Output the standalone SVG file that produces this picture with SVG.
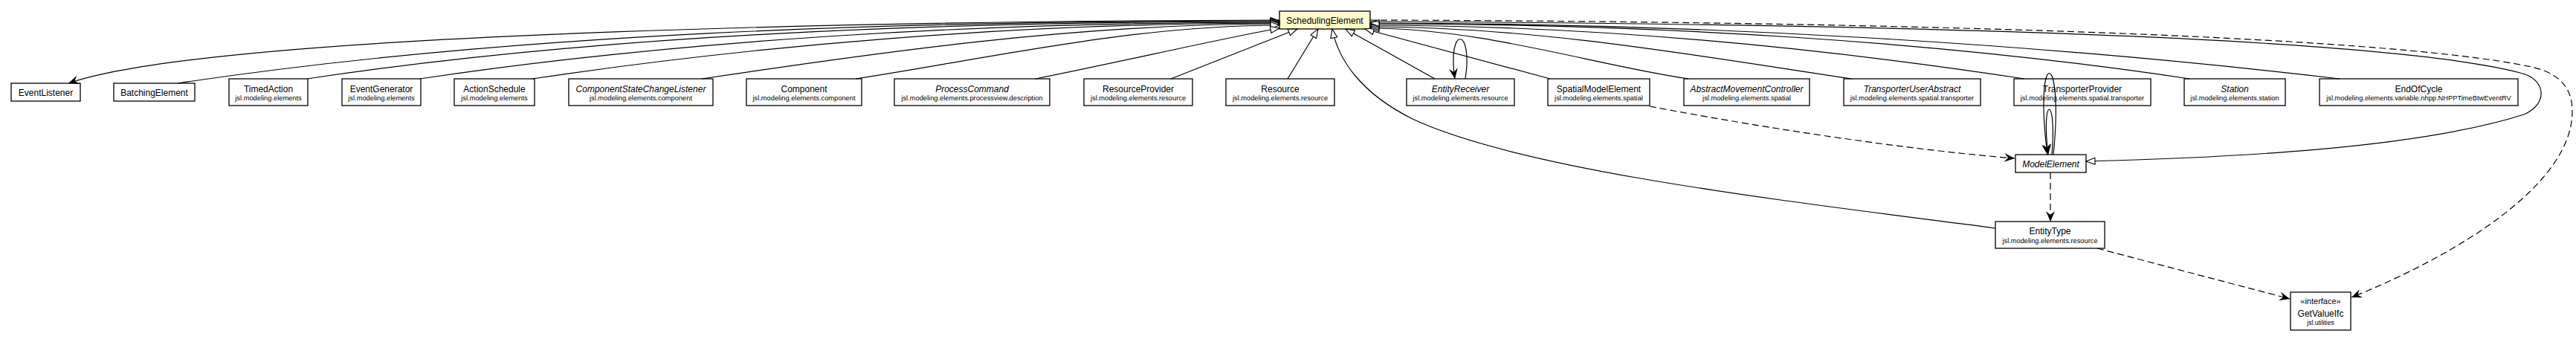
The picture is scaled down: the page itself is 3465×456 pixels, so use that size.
<svg xmlns="http://www.w3.org/2000/svg" width="3465" height="456" viewBox="0 0 3465 456">
<style>
.box{fill:#fff;stroke:#000;stroke-width:1.3}
.ctx{fill:#fffacd;stroke:#000;stroke-width:1.3}
.n{font-family:"Liberation Sans",Arial,sans-serif;font-size:12px;text-anchor:middle;fill:#000}
.i{font-style:italic}
.p{font-family:"Liberation Sans",Arial,sans-serif;font-size:9.3px;text-anchor:middle;fill:#000}
.e{fill:none;stroke:#000;stroke-width:1.2}
.d{fill:none;stroke:#000;stroke-width:1.2;stroke-dasharray:9,5}
.g{marker-end:url(#tri)}
.v{marker-end:url(#vee)}
</style>
<defs>
<marker id="tri" markerUnits="userSpaceOnUse" markerWidth="14" markerHeight="12" refX="13" refY="6" orient="auto" overflow="visible"><path d="M1,1.5 L13,6 L1,10.5 Z" fill="#fff" stroke="#000" stroke-width="1.1"/></marker>
<marker id="vee" markerUnits="userSpaceOnUse" markerWidth="15" markerHeight="14" refX="14" refY="7" orient="auto" overflow="visible"><path d="M0,1 L14,7 L0,13 L5,7 Z" fill="#000"/></marker>
</defs>
<g id="nodes">
<g id="SchedulingElement"><rect class="ctx" x="1721" y="15" width="122" height="24"/><text class="n" x="1782" y="32">SchedulingElement</text></g>
<g id="EventListener"><rect class="box" x="15" y="112" width="93" height="24"/><text class="n" x="61.5" y="128.5">EventListener</text></g>
<g id="BatchingElement"><rect class="box" x="153" y="112" width="109" height="24"/><text class="n" x="207.5" y="128.5">BatchingElement</text></g>
<g id="TimedAction"><rect class="box" x="308" y="106" width="106" height="36"/><text class="n" x="361" y="123.5">TimedAction</text><text class="p" x="361" y="135">jsl.modeling.elements</text></g>
<g id="EventGenerator"><rect class="box" x="460" y="106" width="106" height="36"/><text class="n" x="513" y="123.5">EventGenerator</text><text class="p" x="513" y="135">jsl.modeling.elements</text></g>
<g id="ActionSchedule"><rect class="box" x="611" y="106" width="108" height="36"/><text class="n" x="665" y="123.5">ActionSchedule</text><text class="p" x="665" y="135">jsl.modeling.elements</text></g>
<g id="ComponentStateChangeListener"><rect class="box" x="765" y="106" width="194" height="36"/><text class="n i" x="862" y="123.5">ComponentStateChangeListener</text><text class="p" x="862" y="135">jsl.modeling.elements.component</text></g>
<g id="Component"><rect class="box" x="1004" y="106" width="155" height="36"/><text class="n" x="1081.5" y="123.5">Component</text><text class="p" x="1081.5" y="135">jsl.modeling.elements.component</text></g>
<g id="ProcessCommand"><rect class="box" x="1203" y="106" width="209" height="36"/><text class="n i" x="1307.5" y="123.5">ProcessCommand</text><text class="p" x="1307.5" y="135">jsl.modeling.elements.processview.description</text></g>
<g id="ResourceProvider"><rect class="box" x="1458" y="106" width="146" height="36"/><text class="n" x="1531" y="123.5">ResourceProvider</text><text class="p" x="1531" y="135">jsl.modeling.elements.resource</text></g>
<g id="Resource"><rect class="box" x="1649" y="106" width="146" height="36"/><text class="n" x="1722" y="123.5">Resource</text><text class="p" x="1722" y="135">jsl.modeling.elements.resource</text></g>
<g id="EntityReceiver"><rect class="box" x="1892" y="106" width="145" height="36"/><text class="n i" x="1964.5" y="123.5">EntityReceiver</text><text class="p" x="1964.5" y="135">jsl.modeling.elements.resource</text></g>
<g id="SpatialModelElement"><rect class="box" x="2082" y="106" width="137" height="36"/><text class="n" x="2150.5" y="123.5">SpatialModelElement</text><text class="p" x="2150.5" y="135">jsl.modeling.elements.spatial</text></g>
<g id="AbstractMovementController"><rect class="box" x="2265" y="106" width="169" height="36"/><text class="n i" x="2349.5" y="123.5">AbstractMovementController</text><text class="p" x="2349.5" y="135">jsl.modeling.elements.spatial</text></g>
<g id="TransporterUserAbstract"><rect class="box" x="2480" y="106" width="184" height="36"/><text class="n i" x="2572" y="123.5">TransporterUserAbstract</text><text class="p" x="2572" y="135">jsl.modeling.elements.spatial.transporter</text></g>
<g id="TransporterProvider"><rect class="box" x="2709" y="106" width="184" height="36"/><text class="n" x="2801" y="123.5">TransporterProvider</text><text class="p" x="2801" y="135">jsl.modeling.elements.spatial.transporter</text></g>
<g id="Station"><rect class="box" x="2938" y="106" width="136" height="36"/><text class="n i" x="3006" y="123.5">Station</text><text class="p" x="3006" y="135">jsl.modeling.elements.station</text></g>
<g id="EndOfCycle"><rect class="box" x="3120" y="106" width="267" height="36"/><text class="n" x="3253.5" y="123.5">EndOfCycle</text><text class="p" x="3253.5" y="135">jsl.modeling.elements.variable.nhpp.NHPPTimeBtwEventRV</text></g>
<g id="ModelElement"><rect class="box" x="2711" y="208" width="95" height="24"/><text class="n i" x="2758.5" y="225">ModelElement</text></g>
<g id="EntityType"><rect class="box" x="2684" y="298" width="147" height="36"/><text class="n" x="2757.5" y="315">EntityType</text><text class="p" x="2757.5" y="327">jsl.modeling.elements.resource</text></g>
<g id="GetValueIfc"><rect class="box" x="3081" y="393" width="81" height="51"/><text class="n" x="3121.5" y="409" style="font-size:11px">«interface»</text><text class="n" x="3121.5" y="425.5">GetValueIfc</text><text class="p" x="3121.5" y="436.5" style="font-size:8.5px">jsl.utilities</text></g>
</g>
<g id="connectors">
<path class="e v" d="M1721,27 C1300,28 300,40 92,112"/>
<path class="e g" d="M239,112 C684,45 1202,28 1721,28"/>
<path class="e g" d="M413,106 C805,47 1263,29 1721,29"/>
<path class="e g" d="M565,106 C912,54 1316,30 1721,30"/>
<path class="e g" d="M716,106 C1018,61 1369,31 1721,31"/>
<path class="e g" d="M944,106 C1177,71 1449,32 1721,32"/>
<path class="e g" d="M1151,106 C1322,80 1521,34 1721,34"/>
<path class="e g" d="M1393,106 C1500,85 1650,50 1721,38"/>
<path class="e g" d="M1575,106 L1745,39"/>
<path class="e g" d="M1732,106 L1773,39"/>
<path class="e g" d="M2684,307 C2400,270 2050,230 1900,160 C1830,125 1800,80 1792,39"/>
<path class="e g" d="M1930,106 L1810,39"/>
<path class="e g" d="M2085,106 L1836,39"/>
<path class="e g" d="M2271,106 C2143,87 1993,38 1843,38"/>
<path class="e g" d="M2490,106 C2296,77 2069,36 1843,36"/>
<path class="e g" d="M2723,106 C2459,66 2151,34 1843,34"/>
<path class="e g" d="M2945,106 C2614,56 2229,32 1843,32"/>
<path class="e g" d="M3147,106 C2756,60 2299,31 1843,31"/>
<path class="e v" d="M1971,106 C1982,35 1946,35 1957,106"/>
<path class="e g" d="M1843,29 C2500,32 3200,48 3390,98 C3425,106 3428,140 3395,154 C3250,200 3000,212 2806,217"/>
<path class="d v" d="M1843,27 C2500,29 3200,46 3405,90 C3450,100 3460,125 3460,150 C3460,250 3300,345 3163,400"/>
<path class="e v" d="M2762,208 C2777,62 2735,62 2754,208"/>
<path class="e v" d="M2760,208 C2767,127 2745,127 2755,208"/>
<path class="d v" d="M2219,143 C2350,168 2550,200 2710,213"/>
<path class="d v" d="M2758,232 L2758,298"/>
<path class="d v" d="M2821,334 L3080,402"/>
</g>
</svg>
